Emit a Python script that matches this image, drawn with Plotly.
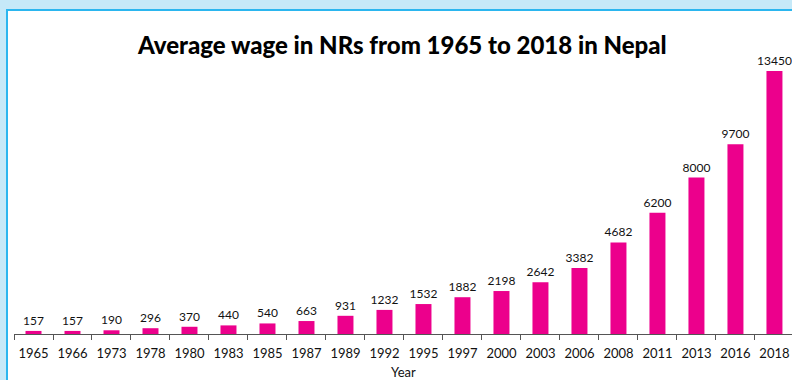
import plotly.graph_objects as go

# Average wage data (NRs)
years = ["1965", "1966", "1973", "1978", "1980", "1983", "1985", "1987", "1989", "1992",
         "1995", "1997", "2000", "2003", "2006", "2008", "2011", "2013", "2016", "2018"]
wages = [157, 157, 190, 296, 370, 440, 540, 663, 931, 1232,
         1532, 1882, 2198, 2642, 3382, 4682, 6200, 8000, 9700, 13450]

W, H = 792, 380
BAR_COLOR = "#ec008c"
FONT = "Lato, sans-serif"

fig = go.Figure()
fig.add_trace(go.Bar(
    x=years,
    y=wages,
    marker=dict(color=BAR_COLOR, line=dict(width=0)),
    text=[str(v) for v in wages],
    textposition="outside",
    constraintext="none",
    textfont=dict(family=FONT, size=12, color="#111111"),
    cliponaxis=False,
    width=0.41,
))

fig.update_layout(
    width=W, height=H,
    margin=dict(l=0, r=0, t=0, b=0),
    paper_bgcolor="#c6e9f8",
    plot_bgcolor="rgba(0,0,0,0)",
    showlegend=False,
    font=dict(family=FONT, size=13, color="#111111"),
    xaxis=dict(
        type="category",
        domain=[14 / W, 1],
        range=[-0.5, 19.45],
        showline=True, linecolor="#555555", linewidth=1,
        ticks="outside", tickson="boundaries", ticklen=5, tickcolor="#555555",
        tickangle=0, ticklabelstandoff=7,
        showgrid=False, zeroline=False,
        tickfont=dict(family=FONT, size=13, color="#111111"),
        fixedrange=True,
    ),
    yaxis=dict(
        domain=[(H - 334) / H, (H - 40) / H],
        range=[0, 15038],
        visible=False,
        fixedrange=True,
    ),
    shapes=[
        # white card with a blue frame
        dict(type="rect", xref="paper", yref="paper", layer="below",
             x0=7 / W, x1=1.2, y0=-0.2, y1=(H - 10) / H,
             fillcolor="white", line=dict(color="#2bb6ef", width=2)),
    ],
    annotations=[
        dict(text="Average wage in NRs from 1965 to 2018 in Nepal",
             xref="paper", yref="paper", x=402 / W, y=(H - 44) / H,
             xanchor="center", yanchor="middle", showarrow=False,
             font=dict(family=FONT, size=24, weight=900, color="#000000")),
        dict(text="Year", xref="paper", yref="paper", x=404 / W, y=(H - 372) / H,
             xanchor="center", yanchor="middle", showarrow=False,
             font=dict(family=FONT, size=13, color="#111111")),
    ],
)

fig.write_html("out.html")
